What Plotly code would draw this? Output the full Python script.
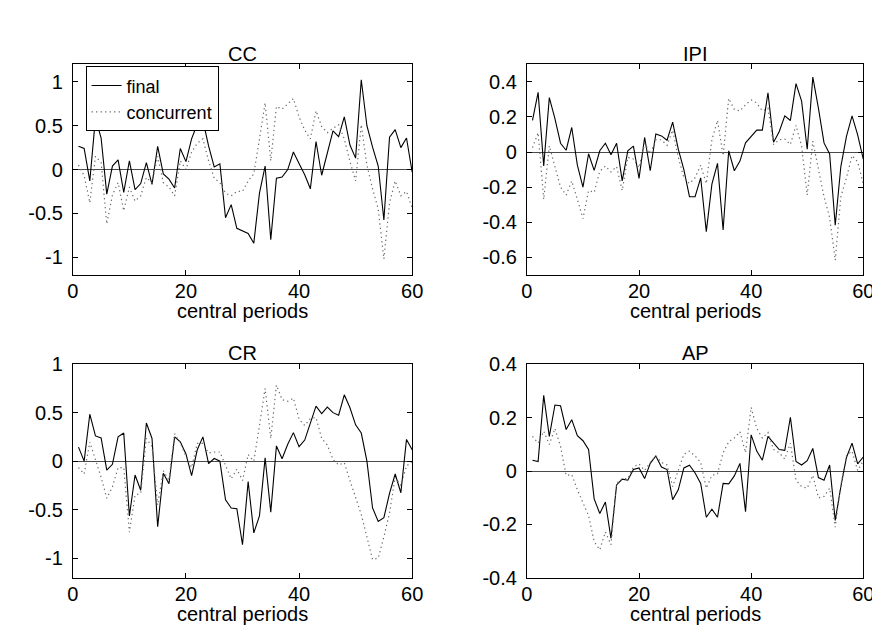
import plotly.graph_objects as go

periods = list(range(1, 61))

cc_final = [0.265, 0.24, -0.13, 0.59, 0.36, -0.28, 0.04, 0.11, -0.26, 0.10,
            -0.23, -0.16, 0.08, -0.17, 0.265, -0.05, -0.11, -0.21, 0.24, 0.09,
            0.35, 0.52, 0.56, 0.27, 0.03, 0.065, -0.55, -0.40, -0.67, -0.70,
            -0.73, -0.84, -0.27, 0.04, -0.80, -0.10, -0.085, 0.0, 0.20, 0.07,
            -0.06, -0.22, 0.32, -0.065, 0.20, 0.44, 0.375, 0.60, 0.28, 0.13,
            1.025, 0.50, 0.255, 0.04, -0.575, 0.37, 0.455, 0.25, 0.36, -0.03]
cc_concurrent = [0.05, -0.07, -0.38, 0.15, 0.08, -0.62, -0.29, -0.15, -0.47, -0.20,
                 -0.36, -0.30, -0.09, -0.15, 0.15, -0.15, -0.20, -0.30, 0.10, 0.0,
                 0.20, 0.30, 0.35, 0.10, -0.10, -0.15, -0.27, -0.30, -0.25, -0.25,
                 -0.13, -0.05, 0.35, 0.76, 0.10, 0.72, 0.69, 0.75, 0.81, 0.60,
                 0.45, 0.35, 0.67, 0.49, 0.42, 0.47, 0.51, 0.35, 0.09, -0.13,
                 0.51, 0.05, -0.22, -0.45, -1.02, -0.38, -0.13, -0.30, -0.25, -0.44]

ipi_final = [0.18, 0.34, -0.08, 0.31, 0.19, 0.05, 0.01, 0.14, -0.075, -0.20,
             -0.01, -0.105, 0.007, 0.05, -0.016, 0.05, -0.165, 0.007, 0.034, -0.15,
             0.083, -0.107, 0.103, 0.092, 0.067, 0.17, 0.016, -0.10, -0.255, -0.255,
             -0.147, -0.454, -0.183, -0.065, -0.445, 0.007, -0.107, -0.052, 0.052, 0.089,
             0.125, 0.125, 0.338, 0.056, 0.116, 0.206, 0.18, 0.39, 0.29, 0.016,
             0.427, 0.25, 0.052, -0.011, -0.418, -0.083, 0.089, 0.206, 0.098, -0.04]
ipi_concurrent = [0.025, 0.11, -0.27, 0.035, -0.083, -0.20, -0.246, -0.165, -0.27, -0.38,
                  -0.22, -0.23, -0.11, -0.08, -0.114, -0.083, -0.22, -0.03, -0.04, -0.09,
                  0.05, -0.01, 0.07, 0.07, 0.038, 0.125, -0.03, -0.147, -0.18, -0.147,
                  -0.075, -0.18, 0.07, 0.18, -0.02, 0.306, 0.243, 0.234, 0.27, 0.297,
                  0.28, 0.234, 0.25, 0.043, 0.07, 0.074, 0.043, 0.152, 0.034, -0.246,
                  0.062, -0.092, -0.255, -0.373, -0.617, -0.255, -0.147, -0.02, -0.056, -0.18]

cr_final = [0.147, 0.003, 0.487, 0.263, 0.243, -0.09, -0.03, 0.253, 0.293, -0.563,
            -0.14, -0.297, 0.397, 0.237, -0.673, -0.123, -0.23, 0.253, 0.203, 0.077,
            -0.147, 0.12, 0.253, -0.023, 0.03, 0.003, -0.397, -0.48, -0.487, -0.86,
            -0.207, -0.737, -0.563, 0.037, -0.523, 0.16, 0.027, 0.177, 0.297, 0.153,
            0.22, 0.403, 0.57, 0.493, 0.56, 0.503, 0.477, 0.687, 0.553, 0.377,
            0.293, 0.003, -0.48, -0.62, -0.58, -0.33, -0.13, -0.323, 0.227, 0.12]
cr_concurrent = [-0.063, -0.13, 0.20, 0.02, -0.163, -0.38, -0.263, -0.063, -0.063, -0.73,
                 -0.347, -0.33, 0.237, 0.153, -0.45, -0.097, -0.197, 0.287, 0.187, 0.053,
                 -0.063, 0.187, 0.187, 0.087, 0.097, 0.097, -0.047, -0.18, -0.08, -0.197,
                 0.07, 0.003, 0.37, 0.753, 0.237, 0.787, 0.637, 0.62, 0.653, 0.437,
                 0.37, 0.443, 0.453, 0.237, 0.17, 0.02, -0.037, -0.013, -0.197, -0.363,
                 -0.547, -0.78, -1.013, -0.997, -0.78, -0.53, -0.163, -0.247, -0.047, 0.0]

ap_final = [0.041, 0.036, 0.284, 0.13, 0.248, 0.245, 0.156, 0.193, 0.133, 0.114,
            0.081, -0.104, -0.159, -0.116, -0.252, -0.052, -0.03, -0.034, 0.006, 0.012,
            -0.028, 0.029, 0.057, 0.015, 0.006, -0.107, -0.07, 0.012, 0.022, -0.007,
            -0.046, -0.173, -0.143, -0.173, -0.046, -0.048, -0.018, 0.029, -0.152, 0.136,
            0.075, 0.041, 0.13, 0.105, 0.081, 0.078, 0.202, 0.036, 0.023, 0.039,
            0.085, -0.024, -0.034, 0.023, -0.185, -0.058, 0.051, 0.105, 0.027, 0.053]
ap_concurrent = [0.13, 0.105, 0.15, 0.10, 0.16, 0.093, -0.016, -0.013, -0.07, -0.119,
                 -0.167, -0.264, -0.295, -0.228, -0.276, -0.046, -0.028, -0.028, 0.015, 0.027,
                 0.002, 0.033, 0.057, 0.033, 0.023, -0.058, 0.002, 0.063, 0.075, 0.057,
                 0.033, -0.064, -0.016, -0.01, 0.069, 0.11, 0.124, 0.148, 0.069, 0.239,
                 0.16, 0.124, 0.145, 0.081, 0.069, 0.045, 0.105, -0.034, -0.058, -0.064,
                 -0.016, -0.1, -0.095, -0.064, -0.21, -0.052, 0.057, 0.075, 0.002, 0.039]

x_ticks = [0, 20, 40, 60]
cc_ticks = [-1, -0.5, 0, 0.5, 1]
ipi_ticks = [-0.6, -0.4, -0.2, 0, 0.2, 0.4]
cr_ticks = [-1, -0.5, 0, 0.5, 1]
ap_ticks = [-0.4, -0.2, 0, 0.2, 0.4]

panels = [
    ("CC", cc_final, cc_concurrent, cc_ticks, [-1.2, 1.2]),
    ("IPI", ipi_final, ipi_concurrent, ipi_ticks, [-0.7, 0.5]),
    ("CR", cr_final, cr_concurrent, cr_ticks, [-1.2, 1.0]),
    ("AP", ap_final, ap_concurrent, ap_ticks, [-0.4, 0.4]),
]

W, H = 880, 629
xdoms = [[60 / W, 406 / W], [523 / W, 866 / W], [60 / W, 406 / W], [523 / W, 866 / W]]
ydoms = [[1 - 265 / H, 1 - 47 / H], [1 - 265 / H, 1 - 47 / H],
         [1 - 579 / H, 1 - 358 / H], [1 - 579 / H, 1 - 358 / H]]
title_y = [1 - 36 / H, 1 - 36 / H, 1 - 346 / H, 1 - 346 / H]
xlabel_y = [1 - 303 / H, 1 - 303 / H, 1 - 617 / H, 1 - 617 / H]

FONT = "Liberation Sans, Arial, Helvetica, sans-serif"
FS = 20


def fmt(v):
    return "%g" % v


fig = go.Figure()
layout = dict(width=W, height=H, margin=dict(l=0, r=0, t=0, b=0),
              paper_bgcolor="white", plot_bgcolor="white",
              font=dict(family=FONT, size=FS, color="black"),
              showlegend=True,
              legend=dict(x=73 / W, y=1 - 49 / H, xanchor="left", yanchor="top",
                          bgcolor="white", bordercolor="black", borderwidth=1,
                          font=dict(family=FONT, size=18, color="black"),
                          itemwidth=30, tracegroupgap=0, traceorder="normal",
                          itemclick=False, itemdoubleclick=False))
annotations = []

for i, (name, fin, conc, yt, yr) in enumerate(panels):
    n = i + 1
    xa = "x" if n == 1 else "x%d" % n
    ya = "y" if n == 1 else "y%d" % n
    fig.add_trace(go.Scatter(x=periods, y=fin, mode="lines", name="final",
                             line=dict(color="black", width=1.1),
                             xaxis=xa, yaxis=ya, showlegend=(n == 1)))
    fig.add_trace(go.Scatter(x=periods, y=conc, mode="lines", name="concurrent",
                             line=dict(color="#6a6a6a", width=1.2, dash="1.3px,3.2px"),
                             xaxis=xa, yaxis=ya, showlegend=(n == 1)))
    axcommon = dict(showline=True, linecolor="black", linewidth=1, mirror="ticks",
                    ticks="inside", ticklen=5, tickcolor="black", tickwidth=1,
                    showgrid=False, tickfont=dict(family=FONT, size=FS, color="black"))
    layout["xaxis" if n == 1 else "xaxis%d" % n] = dict(
        domain=xdoms[i], range=[0, 60], anchor=ya, tickmode="array",
        tickvals=x_ticks, ticktext=[fmt(v) for v in x_ticks], zeroline=False,
        ticklabelstandoff=-2, **axcommon)
    layout["yaxis" if n == 1 else "yaxis%d" % n] = dict(
        domain=ydoms[i], range=yr, anchor=xa, tickmode="array",
        tickvals=yt, ticktext=[fmt(v) for v in yt], zeroline=True,
        zerolinecolor="#4a4a4a", zerolinewidth=1, ticklabelstandoff=5, **axcommon)
    cx = (xdoms[i][0] + xdoms[i][1]) / 2
    annotations.append(dict(text=name, x=cx, y=title_y[i], xref="paper", yref="paper",
                            showarrow=False, xanchor="center", yanchor="middle",
                            font=dict(family=FONT, size=FS, color="black")))
    annotations.append(dict(text="central periods", x=cx, y=xlabel_y[i], xref="paper",
                            yref="paper", showarrow=False, xanchor="center",
                            yanchor="middle",
                            font=dict(family=FONT, size=FS, color="black")))

layout["annotations"] = annotations
fig.update_layout(**layout)
fig.write_html("out.html")
